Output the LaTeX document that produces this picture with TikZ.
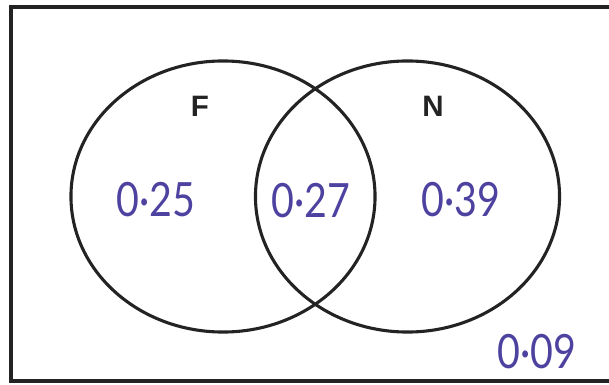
\documentclass[tikz,border=0pt]{standalone}
\usepackage{fontspec}
\setmainfont{Liberation Sans}
\newfontfamily\handfont{Lato}
\usepackage{tikz}
\usetikzlibrary{shapes.geometric}
\usepackage{xcolor}
\definecolor{inkblue}{RGB}{78,66,160}
\definecolor{penblack}{RGB}{35,35,35}

\begin{document}
\begin{tikzpicture}[x=0.025cm, y=-0.025cm,
    setring/.style={ellipse, draw=penblack, line width=2.2pt,
        minimum width=7.6cm, minimum height=6.775cm, inner sep=0pt},
    setname/.style={font=\bfseries\fontsize{21}{24}\selectfont, text=penblack},
    prob/.style={font=\handfont\fontsize{28}{32}\selectfont, text=inkblue, yscale=1.2}
]
    \clip (0,0) rectangle (609,385);
    \draw[penblack, line width=2.6pt] (11,7) rectangle (640,381);

    \node[setring] (setF) at (223,196.5) {};
    \node[setring] (setN) at (407.5,196.5) {};

    \node[setname] (nameF) at (200,106) {F};
    \node[setname] (nameN) at (433,106) {N};

    % probabilities
    \node[prob] (onlyF) at (156,200) {0·25};
    \node[prob] (both) at (311,201) {0·27};
    \node[prob] (onlyN) at (461,200) {0·39};
    \node[prob] (none) at (537,352) {0·09};
\end{tikzpicture}
\end{document}
